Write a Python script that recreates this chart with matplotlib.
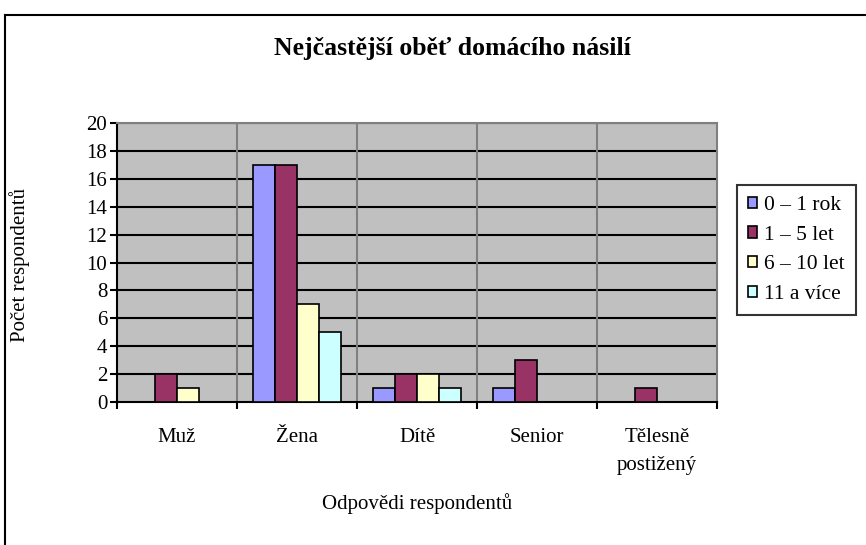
import matplotlib.pyplot as plt
import numpy as np
from matplotlib.lines import Line2D

categories = ['Muž', 'Žena', 'Dítě', 'Senior', 'Tělesně\npostižený']
series_names = ['0 – 1 rok', '1 – 5 let', '6 – 10 let', '11 a více']
val_0_1 = [0, 17, 1, 1, 0]
val_1_5 = [2, 17, 2, 3, 1]
val_6_10 = [1, 7, 2, 0, 0]
val_11 = [0, 5, 1, 0, 0]
colors = ['#9999FF', '#993366', '#FFFFCC', '#CCFFFF']

plt.rcParams['font.family'] = ['Liberation Serif', 'DejaVu Serif']

fig = plt.figure(figsize=(8.66, 5.45), dpi=100)
ax = fig.add_axes([117/866, 1-402/545, 600/866, 279/545])
ax.set_facecolor('#C0C0C0')

x = np.arange(len(categories))
w = 0.185
all_vals = [val_0_1, val_1_5, val_6_10, val_11]
for i, vals in enumerate(all_vals):
    v = np.array(vals, dtype=float)
    pos = x + (i - 1.5) * w
    mask = v > 0
    ax.bar(pos[mask], v[mask], width=w, color=colors[i], edgecolor='black',
           linewidth=1.2, zorder=3)
    # dummy for legend
    ax.bar([np.nan], [np.nan], width=w, color=colors[i], edgecolor='black',
           linewidth=1.2, label=series_names[i])

ax.set_xlim(-0.5, len(categories) - 0.5)
ax.set_ylim(0, 20)
ax.set_yticks(range(0, 21, 2))
for yv in range(2, 21, 2):
    ax.axhline(yv, color='black', linewidth=1.5, zorder=1)
for xb in np.arange(0.5, len(categories) - 0.5, 1):
    ax.axvline(xb, color='#808080', linewidth=1.5, zorder=1)

ax.set_xticks(np.arange(-0.5, len(categories), 1))
ax.set_xticklabels([])
ax.set_xticks(x, minor=True)
ax.set_xticklabels(categories, minor=True, linespacing=1.65)
ax.tick_params(axis='x', which='minor', length=0, pad=18.5, labelsize=15)
ax.tick_params(axis='x', which='major', length=5, width=1.5, direction='out')
ax.tick_params(axis='y', length=5, width=1.5, direction='out', pad=2, labelsize=15)

for s in ['top', 'right']:
    ax.spines[s].set_color('#808080')
    ax.spines[s].set_linewidth(1.5)
for s in ['left', 'bottom']:
    ax.spines[s].set_color('black')
    ax.spines[s].set_linewidth(1.5)

fig.text(452/866, 1-48/545, 'Nejčastější oběť domácího násilí', ha='center',
         va='center', fontsize=18.5, fontweight='bold')
fig.text(20/866, 1-265/545, 'Počet respondentů', rotation=90, ha='center',
         va='center', fontsize=15)
fig.text(417/866, 1-504/545, 'Odpovědi respondentů', ha='center',
         va='center', fontsize=15)

leg = fig.legend(loc='center left', bbox_to_anchor=(737/866, 1-250/545),
                 fontsize=15.5, frameon=True, fancybox=False, edgecolor='black',
                 handlelength=0.42, handleheight=0.42, handletextpad=0.35,
                 labelspacing=0.5, borderpad=0.5, borderaxespad=0)
leg.get_frame().set_linewidth(1.5)

# outer chart border (top and left visible)
fig.add_artist(Line2D([4.5/866, 1.0], [1-15/545, 1-15/545], color='black',
                      linewidth=1.5, transform=fig.transFigure))
fig.add_artist(Line2D([4.5/866, 4.5/866], [0, 1-15/545], color='black',
                      linewidth=1.5, transform=fig.transFigure))

fig.savefig('out.png', dpi=100, facecolor='white')
